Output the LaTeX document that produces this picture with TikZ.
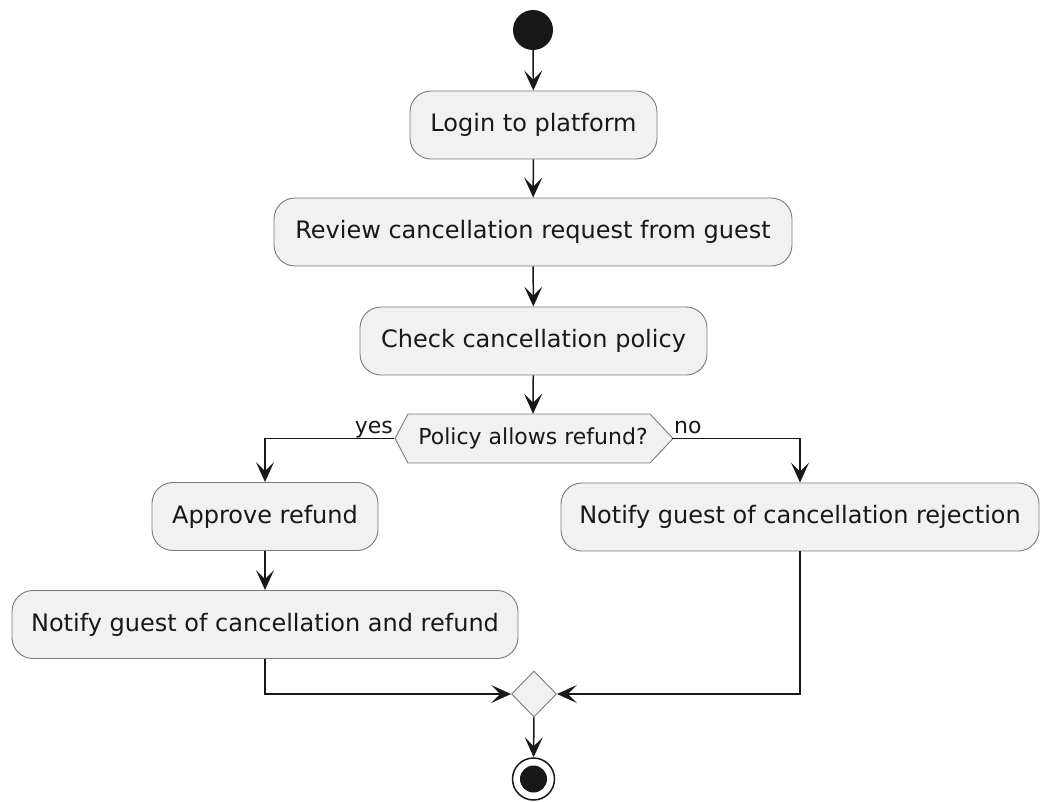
\documentclass[tikz,border=0pt]{standalone}
\usepackage{fontspec}
\setmainfont{DejaVu Sans}
\usetikzlibrary{arrows.meta,shapes.geometric}

\definecolor{boxfill}{HTML}{F1F1F1}
\definecolor{ink}{HTML}{181818}
\definecolor{edge}{HTML}{7A7A7A}

\tikzset{
  activity/.style={draw=edge, line width=0.9pt, fill=boxfill, rounded corners=21pt,
    minimum height=68pt, inner sep=0pt, font=\fontsize{24}{28}\selectfont, text=ink},
  flow/.style={draw=ink, line width=1.5pt,
    -{Stealth[length=20pt,width=18pt,inset=9pt]}},
  guard/.style={font=\fontsize{22}{26}\selectfont, text=ink, inner sep=0pt},
  merge/.style={diamond, draw=edge, line width=0.9pt, fill=boxfill,
    minimum width=45pt, minimum height=46pt, inner sep=0pt},
}

\begin{document}
\begin{tikzpicture}[x=1pt,y=-1pt]
  \useasboundingbox (0,0) rectangle (1040,801);

  % start point
  \node[circle, fill=ink, minimum size=40pt, inner sep=0pt] (start) at (533,30) {};

  % main column
  \node[activity, minimum width=247pt] (login)  at (533.5,125) {Login to platform};
  \node[activity, minimum width=518pt] (review) at (533,232) {Review cancellation request from guest};
  \node[activity, minimum width=347pt] (check)  at (533.5,341) {Check cancellation policy};

  % decision hexagon
  \draw[draw=edge, line width=0.9pt, fill=boxfill]
    (395,438.5) -- (408,414) -- (650,414) -- (673,438.5) -- (650,463) -- (408,463) -- cycle;
  \node[minimum width=278pt, minimum height=49pt, inner sep=0pt,
        font=\fontsize{22}{26}\selectfont, text=ink] (dec) at (533,438.5) {Policy allows refund?};

  % branches
  \node[activity, minimum width=226pt] (approve) at (265,516.5) {Approve refund};
  \node[activity, minimum width=478pt] (reject)  at (800,517) {Notify guest of cancellation rejection};
  \node[activity, minimum width=506pt] (refund)  at (265,624.5) {Notify guest of cancellation and refund};

  % merge and end
  \node[merge] (join) at (534,694) {};
  \node[circle, draw=ink, line width=1.5pt, fill=white, minimum size=42pt, inner sep=0pt] (stop) at (533.5,779) {};
  \node[circle, fill=ink, minimum size=27pt, inner sep=0pt] at (stop.center) {};

  % guard labels
  \node[guard, anchor=base east] (yes) at (393,433) {yes};
  \node[guard, anchor=base west] (no)  at (674,433) {no};

  % connectors
  \draw[flow] (start) -- (login);
  \draw[flow] (login) -- (review);
  \draw[flow] (review) -- (check);
  \draw[flow] (check) -- (dec.north);
  \draw[flow] (dec.west) -| (approve.north);
  \draw[flow] (dec.east) -| (reject.north);
  \draw[flow] (approve) -- (refund);
  \draw[flow] (refund.south) |- (join.west);
  \draw[flow] (reject.south) |- (join.east);
  \draw[flow] (join) -- (stop);
\end{tikzpicture}
\end{document}
